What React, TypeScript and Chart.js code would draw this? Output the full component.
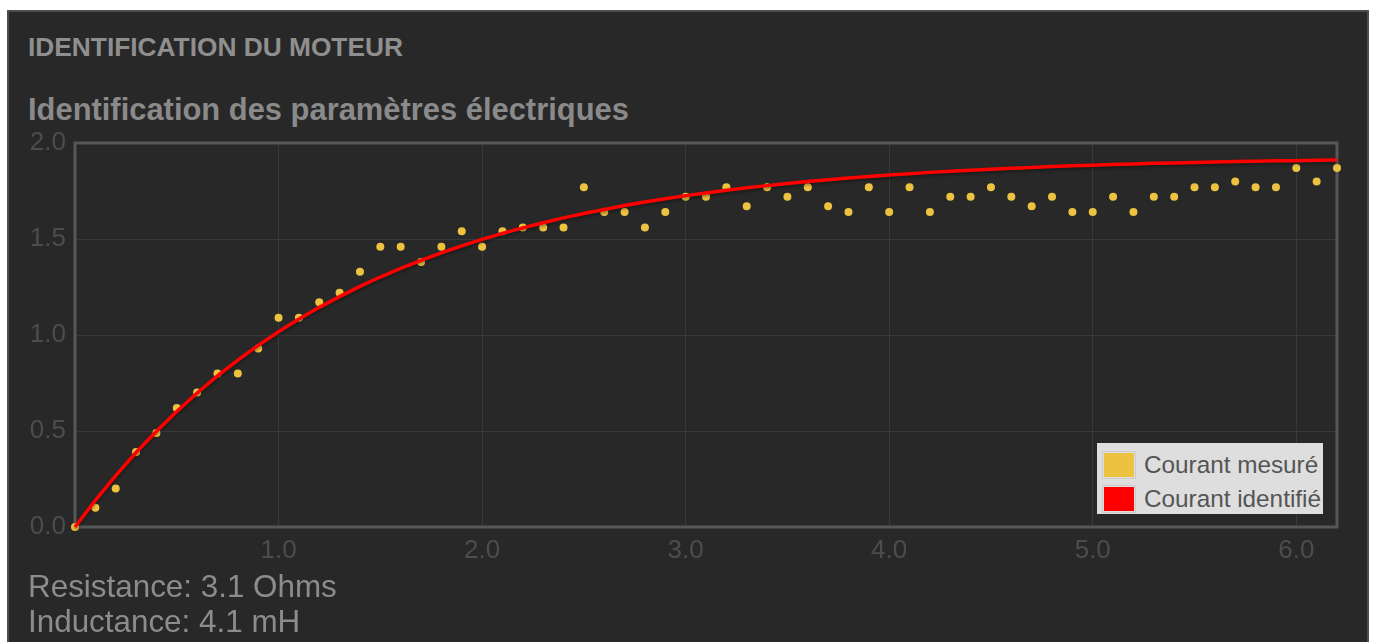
import React, { useEffect, useRef } from "react";
import { Chart, registerables } from "chart.js";

Chart.register(...registerables);

const timeValues = [
  0.0, 0.1, 0.2, 0.3, 0.4, 0.5, 0.6, 0.7, 0.8, 0.9,
  1.0, 1.1, 1.2, 1.3, 1.4, 1.5, 1.6, 1.7, 1.8, 1.9,
  2.0, 2.1, 2.2, 2.3, 2.4, 2.5, 2.6, 2.7, 2.8, 2.9,
  3.0, 3.1, 3.2, 3.3, 3.4, 3.5, 3.6, 3.7, 3.8, 3.9,
  4.0, 4.1, 4.2, 4.3, 4.4, 4.5, 4.6, 4.7, 4.8, 4.9,
  5.0, 5.1, 5.2, 5.3, 5.4, 5.5, 5.6, 5.7, 5.8, 5.9,
  6.0, 6.1, 6.2,
];

const measuredValues = [
  0.0, 0.1, 0.2, 0.39, 0.49, 0.62, 0.7, 0.8, 0.8, 0.93,
  1.09, 1.09, 1.17, 1.22, 1.33, 1.46, 1.46, 1.38, 1.46, 1.54,
  1.46, 1.54, 1.56, 1.56, 1.56, 1.77, 1.64, 1.64, 1.56, 1.64,
  1.72, 1.72, 1.77, 1.67, 1.77, 1.72, 1.77, 1.67, 1.64, 1.77,
  1.64, 1.77, 1.64, 1.72, 1.72, 1.77, 1.72, 1.67, 1.72, 1.64,
  1.64, 1.72, 1.64, 1.72, 1.72, 1.77, 1.77, 1.8, 1.77, 1.77,
  1.87, 1.8, 1.87,
];

const identifiedValues = [
  0.0, 0.139, 0.268, 0.388, 0.499, 0.602, 0.698, 0.787, 0.869, 0.946,
  1.017, 1.083, 1.144, 1.2, 1.253, 1.302, 1.347, 1.389, 1.428, 1.464,
  1.498, 1.529, 1.558, 1.585, 1.61, 1.633, 1.654, 1.674, 1.693, 1.71,
  1.726, 1.74, 1.754, 1.767, 1.778, 1.789, 1.8, 1.809, 1.818, 1.826,
  1.833, 1.84, 1.847, 1.853, 1.858, 1.863, 1.868, 1.873, 1.877, 1.881,
  1.884, 1.888, 1.891, 1.894, 1.896, 1.899, 1.901, 1.903, 1.905, 1.907,
  1.908, 1.91, 1.912,
];

const xTickValues = [1, 2, 3, 4, 5, 6];
const yTickValues = [0, 0.5, 1.0, 1.5, 2.0];
const seriesLabels = ["Courant mesuré", "Courant identifié"];
const headerText = "IDENTIFICATION DU MOTEUR";
const chartTitle = "Identification des paramètres électriques";
const resultLines = ["Resistance: 3.1 Ohms", "Inductance: 4.1 mH"];

const FONT = "'Liberation Sans', Arial, sans-serif";
const NARROW = "'Liberation Sans Narrow', 'Arial Narrow', 'Liberation Sans', Arial, sans-serif";
const swatchColors = ["#edc240", "#ff0000"];

const frameAndShadow = {
  id: "frameAndShadow",
  beforeDatasetsDraw(chart: any) {
    const { ctx, chartArea } = chart;
    ctx.save();
    ctx.strokeStyle = "#575757";
    ctx.lineWidth = 3;
    ctx.strokeRect(chartArea.left, chartArea.top, chartArea.right - chartArea.left, chartArea.bottom - chartArea.top);
    ctx.restore();
  },
  beforeDatasetDraw(chart: any, args: any) {
    if (chart.data.datasets[args.index].showLine) {
      const ctx = chart.ctx;
      ctx.save();
      ctx.shadowColor = "rgba(0,0,0,0.35)";
      ctx.shadowBlur = 3;
      ctx.shadowOffsetY = 2;
    }
  },
  afterDatasetDraw(chart: any, args: any) {
    if (chart.data.datasets[args.index].showLine) {
      chart.ctx.restore();
    }
  },
};

function ChartCanvas() {
  const ref = useRef<HTMLCanvasElement | null>(null);
  useEffect(() => {
    if (!ref.current) return;
    const chart = new Chart(ref.current, {
      type: "scatter",
      data: {
        datasets: [
          {
            label: seriesLabels[0],
            data: timeValues.map((t, i) => ({ x: t, y: measuredValues[i] })),
            backgroundColor: "#edc240",
            borderWidth: 0,
            pointRadius: 4,
            showLine: false,
            clip: false,
            order: 2,
          },
          {
            label: seriesLabels[1],
            data: timeValues.map((t, i) => ({ x: t, y: identifiedValues[i] })),
            borderColor: "#ff0000",
            backgroundColor: "#ff0000",
            borderWidth: 3.5,
            pointRadius: 0,
            showLine: true,
            clip: false,
            order: 1,
          },
        ],
      },
      plugins: [frameAndShadow],
      options: {
        animation: false,
        responsive: false,
        events: [],
        layout: { padding: { top: 143, right: 37, bottom: 70, left: 0 } },
        plugins: { legend: { display: false }, tooltip: { enabled: false }, title: { display: false } },
        scales: {
          x: {
            type: "linear",
            min: 0,
            max: 6.2,
            afterBuildTicks: (s: any) => {
              s.ticks = xTickValues.map((v) => ({ value: v }));
            },
            afterFit: (s: any) => {
              s.height = 45;
            },
            grid: { color: "#393939", lineWidth: 1, drawTicks: false },
            border: { display: false },
            ticks: {
              color: "#4d4d4d",
              font: { family: NARROW, size: 26 },
              padding: 8,
              maxRotation: 0,
              autoSkip: false,
              callback: (v: any) => Number(v).toFixed(1),
            },
          },
          y: {
            type: "linear",
            min: 0,
            max: 2,
            afterBuildTicks: (s: any) => {
              s.ticks = yTickValues.map((v) => ({ value: v }));
            },
            afterFit: (s: any) => {
              s.width = 75;
            },
            grid: { color: "#393939", lineWidth: 1, drawTicks: false },
            border: { display: false },
            ticks: {
              color: "#4d4d4d",
              font: { family: NARROW, size: 26 },
              padding: 9,
              autoSkip: false,
              callback: (v: any) => Number(v).toFixed(1),
            },
          },
        },
      },
    } as any);
    return () => chart.destroy();
  }, []);
  return (
    <canvas
      ref={ref}
      width={1374}
      height={642}
      style={{ position: "absolute", left: 0, top: 0, width: 1374, height: 642 }}
    />
  );
}

export default function App() {
  return (
    <div
      style={{
        position: "absolute",
        left: 0,
        top: 0,
        width: 1374,
        height: 642,
        overflow: "hidden",
        background: "#ffffff",
        fontFamily: FONT,
      }}
    >
      <div
        style={{
          position: "absolute",
          left: 7,
          top: 10,
          width: 1358,
          height: 700,
          background: "#282828",
          border: "2px solid #4e4e4e",
        }}
      />
      <div
        style={{
          position: "absolute",
          left: 28,
          top: 32,
          fontSize: 26.3,
          lineHeight: "30px",
          fontWeight: "bold",
          color: "#8f8f8f",
          whiteSpace: "nowrap",
        }}
      >
        {headerText}
      </div>
      <div
        style={{
          position: "absolute",
          left: 28,
          top: 92,
          fontSize: 30.9,
          lineHeight: "36px",
          fontWeight: "bold",
          color: "#8a8a8a",
          whiteSpace: "nowrap",
        }}
      >
        {chartTitle}
      </div>
      <ChartCanvas />
      <div
        style={{
          position: "absolute",
          left: 1097,
          top: 443,
          width: 226,
          height: 71,
          background: "#dedede",
          boxSizing: "border-box",
          paddingTop: 5,
          paddingLeft: 5,
        }}
      >
        {seriesLabels.map((label, i) => (
          <div key={label} style={{ display: "flex", alignItems: "center", height: 34 }}>
            <div style={{ border: "1px solid #cccccc", padding: 1, marginRight: 8 }}>
              <div style={{ width: 30, height: 24, background: swatchColors[i] }} />
            </div>
            <span style={{ fontSize: 24.3, color: "#555555", whiteSpace: "nowrap" }}>{label}</span>
          </div>
        ))}
      </div>
      {resultLines.map((line, i) => (
        <div
          key={line}
          style={{
            position: "absolute",
            left: 28,
            top: 569 + i * 35,
            fontSize: 31.4,
            lineHeight: "35px",
            color: "#8c8c8c",
            whiteSpace: "nowrap",
          }}
        >
          {line}
        </div>
      ))}
    </div>
  );
}
